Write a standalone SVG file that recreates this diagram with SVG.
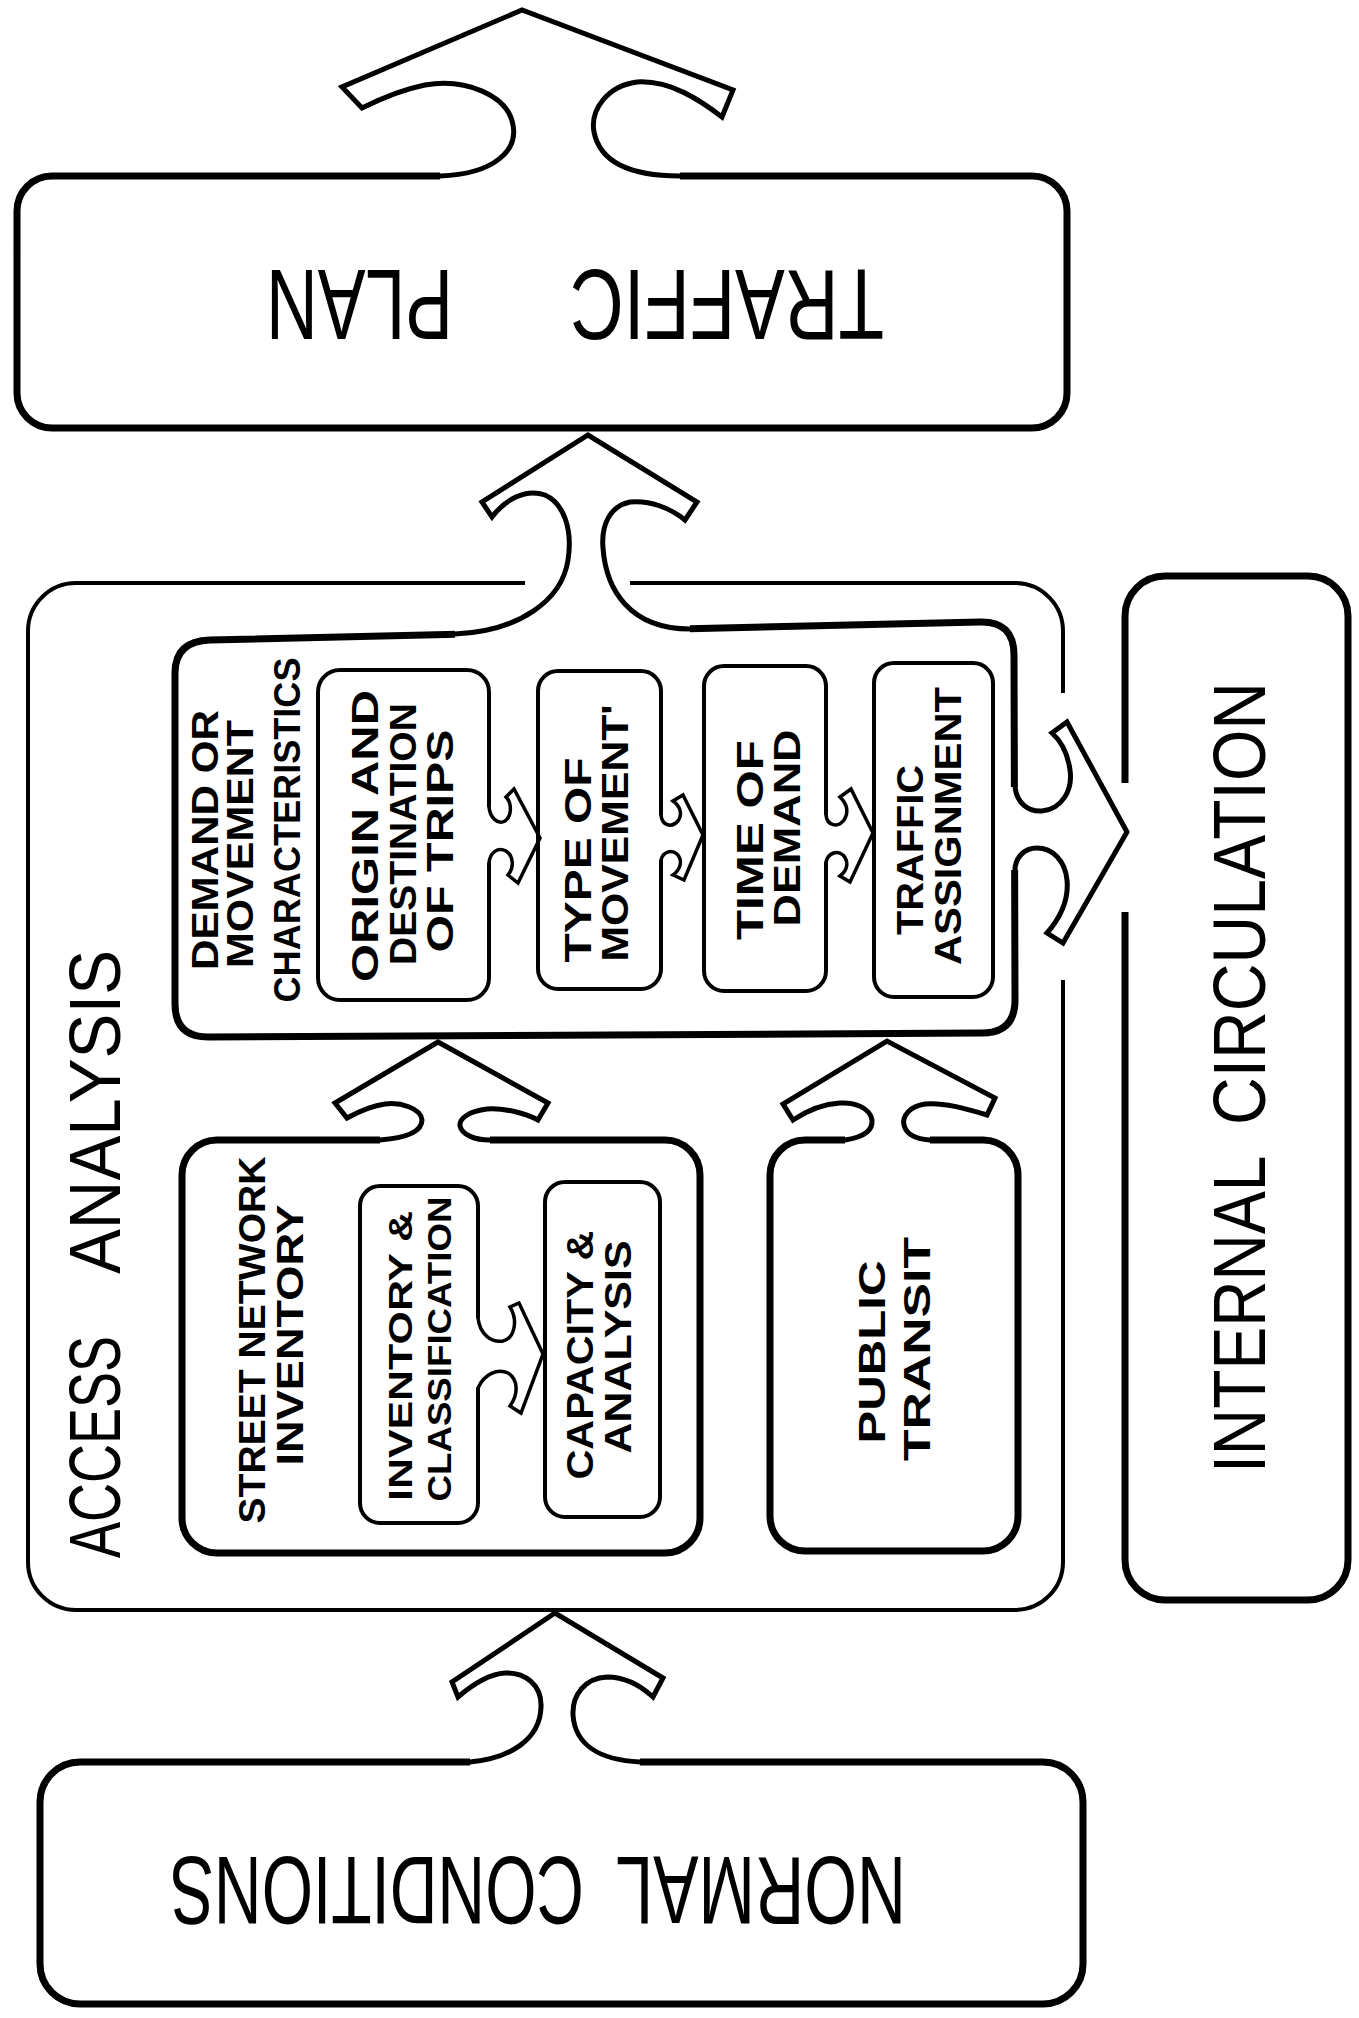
<svg xmlns="http://www.w3.org/2000/svg" width="1359" height="2018" viewBox="0 0 1359 2018">
<defs>
<style>
.box{fill:none;stroke:#000;stroke-width:7;stroke-linejoin:round}
.thin{fill:none;stroke:#000;stroke-width:4}
.sub{fill:none;stroke:#000;stroke-width:4}
.arr{fill:none;stroke:#000;stroke-width:5;stroke-linejoin:miter;stroke-linecap:round}
.sarr{fill:none;stroke:#000;stroke-width:3.5;stroke-linejoin:miter;stroke-linecap:round}
.er{fill:#fff;stroke:none}
.lbl{font-family:"Liberation Sans",Arial,sans-serif;font-weight:bold;font-size:36px;text-anchor:middle;fill:#000}
.big{font-family:"Liberation Sans",Arial,sans-serif;font-size:72px;fill:#000}
.flip{font-family:"Liberation Sans",Arial,sans-serif;font-size:100px;fill:#000}
</style>
</defs>
<rect width="1359" height="2018" fill="#fff"/>

<g id="traffic-plan">
<rect class="box" x="17" y="176" width="1050" height="252" rx="35"/>
<text class="flip" transform="rotate(180 575 305)" y="340"><tspan x="266" textLength="314" lengthAdjust="spacingAndGlyphs">TRAFFIC</tspan> <tspan x="697" textLength="187" lengthAdjust="spacingAndGlyphs">PLAN</tspan></text>
</g>

<g id="access-analysis">
<rect class="thin" x="28" y="583" width="1035" height="1027" rx="48"/>
<text class="big" transform="translate(95 1558) rotate(-90)" y="25"><tspan x="0" textLength="222" lengthAdjust="spacingAndGlyphs">ACCESS</tspan> <tspan x="284" textLength="324" lengthAdjust="spacingAndGlyphs">ANALYSIS</tspan></text>
</g>

<g id="internal-circulation">
<rect class="box" x="1125" y="576" width="223" height="1024" rx="40"/>
<text class="big" style="font-size:75px" transform="translate(1239 1473) rotate(-90)" y="26"><tspan x="0" textLength="315" lengthAdjust="spacingAndGlyphs">INTERNAL</tspan> <tspan x="348" textLength="443" lengthAdjust="spacingAndGlyphs">CIRCULATION</tspan></text>
</g>

<g id="demand">
<path class="box" d="M 210 640 L 980 622 Q 1014 621 1014 655 L 1015 1000 Q 1015 1033 982 1033 L 208 1037 Q 175 1037 175 1004 L 175 673 Q 175 641 210 640 Z"/>
<text class="lbl" transform="translate(205 840) rotate(-90)" y="12.5" textLength="260" lengthAdjust="spacingAndGlyphs">DEMAND OR</text>
<text class="lbl" transform="translate(240 844) rotate(-90)" y="12.5" textLength="248" lengthAdjust="spacingAndGlyphs">MOVEMENT</text>
<text class="lbl" transform="translate(287 830) rotate(-90)" y="12.5" textLength="345" lengthAdjust="spacingAndGlyphs">CHARACTERISTICS</text>
</g>

<g id="origin-destination">
<rect class="sub" x="318" y="670" width="171" height="330" rx="22"/>
<text class="lbl" transform="translate(365 836) rotate(-90)" y="12.5" textLength="292" lengthAdjust="spacingAndGlyphs">ORIGIN AND</text>
<text class="lbl" transform="translate(403 834) rotate(-90)" y="12.5" textLength="262" lengthAdjust="spacingAndGlyphs">DESTINATION</text>
<text class="lbl" transform="translate(440 841) rotate(-90)" y="12.5" textLength="223" lengthAdjust="spacingAndGlyphs">OF TRIPS</text>
</g>

<g id="type-of-movement">
<rect class="sub" x="538" y="671" width="123" height="318" rx="20"/>
<text class="lbl" transform="translate(578 860) rotate(-90)" y="12.5" textLength="205" lengthAdjust="spacingAndGlyphs">TYPE OF</text>
<text class="lbl" transform="translate(615 833) rotate(-90)" y="12.5" textLength="257" lengthAdjust="spacingAndGlyphs">MOVEMENT'</text>
</g>

<g id="time-of-demand">
<rect class="sub" x="704" y="666" width="122" height="325" rx="20"/>
<text class="lbl" transform="translate(750 840) rotate(-90)" y="12.5" textLength="200" lengthAdjust="spacingAndGlyphs">TIME OF</text>
<text class="lbl" transform="translate(787 828) rotate(-90)" y="12.5" textLength="197" lengthAdjust="spacingAndGlyphs">DEMAND</text>
</g>

<g id="traffic-assignment">
<rect class="sub" x="874" y="663" width="119" height="334" rx="20"/>
<text class="lbl" transform="translate(910 850) rotate(-90)" y="12.5" textLength="170" lengthAdjust="spacingAndGlyphs">TRAFFIC</text>
<text class="lbl" transform="translate(948 826) rotate(-90)" y="12.5" textLength="278" lengthAdjust="spacingAndGlyphs">ASSIGNMENT</text>
</g>

<g id="street-network">
<rect class="box" x="182" y="1140" width="518" height="413" rx="35"/>
<text class="lbl" transform="translate(252 1340) rotate(-90)" y="12.5" textLength="367" lengthAdjust="spacingAndGlyphs">STREET NETWORK</text>
<text class="lbl" transform="translate(290 1335) rotate(-90)" y="12.5" textLength="261" lengthAdjust="spacingAndGlyphs">INVENTORY</text>
</g>

<g id="inventory-classification">
<rect class="sub" x="360" y="1186" width="118" height="337" rx="20"/>
<text class="lbl" style="font-size:34px" transform="translate(400 1356) rotate(-90)" y="12" textLength="290" lengthAdjust="spacingAndGlyphs">INVENTORY &amp;</text>
<text class="lbl" style="font-size:34px" transform="translate(439 1349) rotate(-90)" y="12" textLength="305" lengthAdjust="spacingAndGlyphs">CLASSIFICATION</text>
</g>

<g id="capacity-analysis">
<rect class="sub" x="545" y="1182" width="115" height="335" rx="20"/>
<text class="lbl" transform="translate(580 1355) rotate(-90)" y="12.5" textLength="249" lengthAdjust="spacingAndGlyphs">CAPACITY &amp;</text>
<text class="lbl" transform="translate(618 1347) rotate(-90)" y="12.5" textLength="213" lengthAdjust="spacingAndGlyphs">ANALYSIS</text>
</g>

<g id="public-transit">
<rect class="box" x="770" y="1140" width="248" height="411" rx="35"/>
<text class="lbl" transform="translate(872 1352) rotate(-90)" y="12.5" textLength="183" lengthAdjust="spacingAndGlyphs">PUBLIC</text>
<text class="lbl" transform="translate(917 1349) rotate(-90)" y="12.5" textLength="224" lengthAdjust="spacingAndGlyphs">TRANSIT</text>
</g>

<g id="normal-conditions">
<rect class="box" x="40" y="1762" width="1043" height="242" rx="40"/>
<text class="flip" style="font-size:96px" transform="rotate(180 538 1890)" y="1923"><tspan x="170" textLength="288" lengthAdjust="spacingAndGlyphs">NORMAL</tspan> <tspan x="492" textLength="414" lengthAdjust="spacingAndGlyphs">CONDITIONS</tspan></text>
</g>

<g id="connectors">
<rect class="er" x="440" y="170" width="240" height="13"/>
<polygon class="er" points="455,627 690,622 690,636 455,641"/>
<rect class="er" x="525" y="578" width="105" height="11"/>
<rect class="er" x="1008" y="787" width="14" height="83"/>
<rect class="er" x="1056" y="693" width="14" height="287"/>
<rect class="er" x="1118" y="783" width="14" height="129"/>
<rect class="er" x="380" y="1134" width="110" height="13"/>
<rect class="er" x="845" y="1134" width="85" height="13"/>
<rect class="er" x="470" y="1756" width="170" height="13"/>
<rect class="er" x="484" y="807" width="10" height="56"/>
<rect class="er" x="656" y="815" width="10" height="45"/>
<rect class="er" x="821" y="815" width="10" height="47"/>
<rect class="er" x="473" y="1318" width="10" height="70"/>

<path id="arrow-plan-out" class="arr" d="M 440 176 C 495 174, 518 150, 513 125 C 508 95, 465 78, 425 85 C 400 90, 380 99, 362 108 L 342 87 L 522 10 L 733 90 L 722 117 C 700 100, 670 80, 637 82 C 607 86, 590 110, 594 132 C 600 162, 630 176, 680 176"/>
<path id="arrow-demand-plan" class="arr" d="M 455 634 C 520 631, 562 600, 568 560 C 573 528, 563 503, 545 495 C 525 488, 505 500, 492 517 L 482 502 L 588 435 L 697 502 L 685 520 C 670 508, 650 500, 630 502 C 610 506, 601 525, 603 548 C 606 590, 630 629, 690 629"/>
<path id="arrow-demand-internal" class="arr" d="M 1015 787 C 1017 803, 1028 812, 1042 811 C 1062 809, 1073 790, 1070 770 C 1068 755, 1062 742, 1052 733 L 1067 722 L 1127 832 L 1063 943 L 1047 933 C 1060 918, 1069 900, 1067 880 C 1065 860, 1052 848, 1037 848 C 1024 848, 1015 858, 1015 870"/>
<path id="arrow-street-demand" class="arr" d="M 380 1140 C 405 1138, 422 1132, 422 1120 C 421 1108, 400 1102, 385 1104 C 370 1106, 358 1112, 347 1118 L 335 1103 L 438 1042 L 548 1103 L 538 1120 C 525 1113, 505 1108, 487 1109 C 470 1111, 459 1118, 460 1126 C 462 1135, 475 1140, 490 1140"/>
<path id="arrow-transit-demand" class="arr" d="M 845 1140 C 865 1137, 873 1130, 872 1120 C 870 1108, 855 1102, 840 1103 C 822 1104, 805 1112, 793 1120 L 783 1104 L 887 1041 L 995 1098 L 987 1115 C 970 1110, 945 1102, 925 1104 C 910 1106, 902 1116, 904 1125 C 906 1134, 915 1139, 930 1140"/>
<path id="arrow-normal-access" class="arr" d="M 470 1762 C 510 1758, 540 1740, 541 1707 C 542 1685, 525 1672, 505 1673 C 488 1674, 472 1685, 458 1697 L 452 1682 L 555 1613 L 663 1678 L 653 1697 C 640 1685, 625 1677, 607 1677 C 585 1678, 572 1695, 573 1715 C 575 1745, 600 1760, 640 1762"/>
<path id="arrow-origin-type" class="sarr" d="M 489 807 C 490 818, 498 825, 505 821 C 512 816, 512 803, 506 797 L 514 789 L 540 838 L 518 883 L 508 875 C 514 868, 514 856, 506 851 C 498 847, 490 852, 489 863"/>
<path id="arrow-type-time" class="sarr" d="M 661 815 C 662 826, 672 828, 678 821 C 683 814, 680 806, 673 801 L 683 795 L 703 835 L 684 880 L 673 875 C 681 869, 683 860, 677 854 C 671 849, 663 852, 661 860"/>
<path id="arrow-time-assignment" class="sarr" d="M 826 815 C 827 826, 838 828, 844 820 C 849 812, 847 804, 840 797 L 851 789 L 873 833 L 850 882 L 840 876 C 848 870, 849 861, 843 855 C 837 850, 828 853, 826 862"/>
<path id="arrow-inventory-capacity" class="sarr" d="M 478 1318 C 480 1335, 492 1343, 503 1341 C 515 1338, 518 1320, 510 1307 L 519 1303 L 543 1354 L 521 1413 L 510 1406 C 518 1395, 519 1380, 508 1373 C 498 1368, 484 1374, 478 1388"/>
</g>
</svg>
